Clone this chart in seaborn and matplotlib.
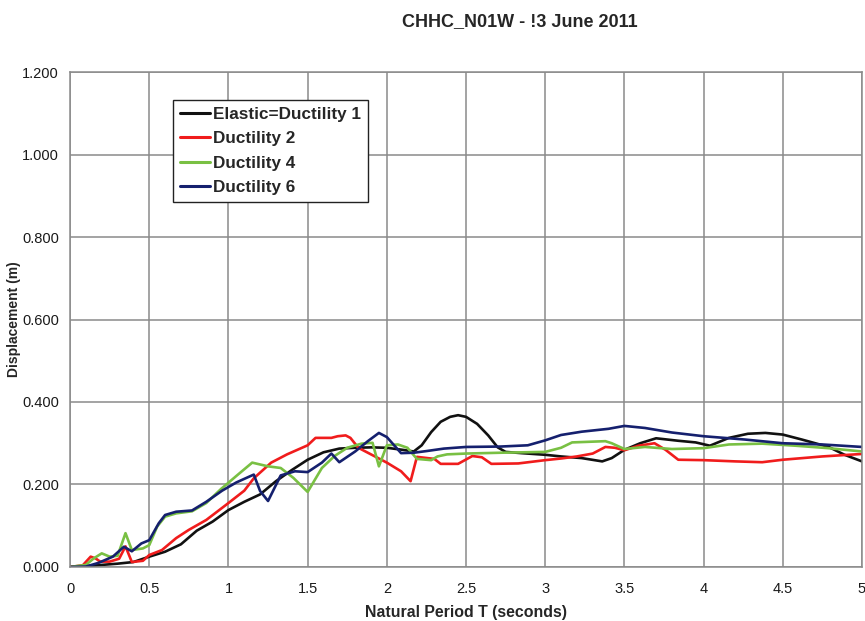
import matplotlib
matplotlib.use("Agg")
import matplotlib.pyplot as plt
import numpy as np
import pandas as pd
import seaborn as sns

# Displacement spectra, CHHC_N01W record
t_elastic = [0, 0.1, 0.2, 0.3, 0.4, 0.5, 0.6, 0.7, 0.8, 0.9, 1.0, 1.1, 1.2, 1.3, 1.4,
             1.5, 1.6, 1.7, 1.8, 1.9, 2.0, 2.1, 2.17, 2.22, 2.28, 2.34, 2.4, 2.45, 2.5,
             2.57, 2.64, 2.7, 2.75, 2.85, 3.0, 3.1, 3.23, 3.36, 3.42, 3.5, 3.6, 3.7,
             3.84, 3.95, 4.04, 4.16, 4.28, 4.39, 4.5, 4.62, 4.79, 4.89, 5.0]
d_elastic = [0, 0.002, 0.005, 0.008, 0.012, 0.025, 0.037, 0.055, 0.088, 0.11, 0.138,
             0.158, 0.176, 0.208, 0.235, 0.26, 0.278, 0.287, 0.289, 0.29, 0.289, 0.284,
             0.28, 0.295, 0.327, 0.352, 0.364, 0.368, 0.364, 0.347, 0.319, 0.29, 0.279,
             0.276, 0.272, 0.268, 0.264, 0.256, 0.264, 0.284, 0.3, 0.312, 0.306, 0.302,
             0.294, 0.313, 0.323, 0.325, 0.321, 0.309, 0.291, 0.272, 0.256]

t_duct2 = [0, 0.08, 0.13, 0.16, 0.19, 0.25, 0.31, 0.35, 0.39, 0.46, 0.5, 0.58, 0.67,
           0.75, 0.86, 1.0, 1.1, 1.16, 1.27, 1.37, 1.5, 1.55, 1.65, 1.69, 1.74, 1.77,
           1.82, 1.9, 2.0, 2.09, 2.15, 2.19, 2.3, 2.34, 2.45, 2.54, 2.6, 2.66, 2.83,
           3.0, 3.1, 3.2, 3.3, 3.38, 3.44, 3.5, 3.59, 3.69, 3.76, 3.84, 4.0, 4.2, 4.37,
           4.5, 4.75, 5.0]
d_duct2 = [0, 0.004, 0.025, 0.021, 0.013, 0.013, 0.02, 0.05, 0.012, 0.015, 0.029,
           0.041, 0.07, 0.09, 0.114, 0.155, 0.185, 0.215, 0.253, 0.273, 0.295, 0.313,
           0.313, 0.317, 0.319, 0.313, 0.289, 0.273, 0.253, 0.232, 0.208, 0.267, 0.262,
           0.25, 0.25, 0.269, 0.266, 0.25, 0.251, 0.259, 0.263, 0.268, 0.275, 0.291,
           0.289, 0.283, 0.294, 0.3, 0.284, 0.26, 0.259, 0.256, 0.254, 0.26, 0.268,
           0.274]

t_duct4 = [0, 0.1, 0.15, 0.2, 0.25, 0.3, 0.35, 0.39, 0.46, 0.5, 0.55, 0.6, 0.67, 0.77,
           0.86, 0.95, 1.06, 1.15, 1.25, 1.33, 1.41, 1.5, 1.59, 1.67, 1.75, 1.84, 1.91,
           1.95, 2.0, 2.07, 2.13, 2.19, 2.28, 2.32, 2.38, 2.5, 2.72, 3.0, 3.1, 3.17,
           3.38, 3.42, 3.5, 3.63, 3.8, 4.0, 4.16, 4.37, 4.58, 4.79, 5.0]
d_duct4 = [0, 0.005, 0.021, 0.033, 0.025, 0.027, 0.082, 0.041, 0.045, 0.053, 0.098,
           0.122, 0.13, 0.135, 0.155, 0.188, 0.224, 0.253, 0.244, 0.24, 0.216, 0.182,
           0.24, 0.269, 0.289, 0.299, 0.301, 0.244, 0.295, 0.297, 0.289, 0.262, 0.259,
           0.268, 0.273, 0.275, 0.277, 0.279, 0.289, 0.302, 0.305, 0.3, 0.286, 0.291,
           0.286, 0.288, 0.297, 0.299, 0.294, 0.288, 0.28]

t_duct6 = [0, 0.1, 0.18, 0.27, 0.34, 0.39, 0.45, 0.5, 0.56, 0.6, 0.67, 0.77, 0.86,
           0.96, 1.05, 1.16, 1.2, 1.25, 1.33, 1.42, 1.5, 1.59, 1.65, 1.7, 1.8, 1.88,
           1.95, 2.0, 2.09, 2.17, 2.25, 2.36, 2.5, 2.72, 2.89, 3.0, 3.1, 3.23, 3.4,
           3.5, 3.63, 3.8, 4.0, 4.26, 4.5, 4.75, 5.0]
d_duct6 = [0, 0.001, 0.01, 0.025, 0.049, 0.038, 0.057, 0.065, 0.106, 0.126, 0.134,
           0.137, 0.158, 0.185, 0.205, 0.224, 0.184, 0.16, 0.222, 0.232, 0.23, 0.253,
           0.275, 0.254, 0.28, 0.305, 0.325, 0.315, 0.276, 0.277, 0.281, 0.287, 0.291,
           0.292, 0.295, 0.307, 0.32, 0.328, 0.335, 0.342, 0.337, 0.326, 0.317, 0.309,
           0.3, 0.297, 0.291]

series_names = ["Elastic=Ductility 1", "Ductility 2", "Ductility 4", "Ductility 6"]
series_colors = ["#111111", "#f01c1c", "#79c043", "#15206e"]
x_ticks = [0, 0.5, 1, 1.5, 2, 2.5, 3, 3.5, 4, 4.5, 5]
x_tick_labels = ["0", "0.5", "1", "1.5", "2", "2.5", "3", "3.5", "4", "4.5", "5"]
y_ticks = [0.0, 0.2, 0.4, 0.6, 0.8, 1.0, 1.2]

frames = []
for name, t, d in zip(series_names,
                      [t_elastic, t_duct2, t_duct4, t_duct6],
                      [d_elastic, d_duct2, d_duct4, d_duct6]):
    frames.append(pd.DataFrame({"T": t, "D": d, "series": name}))
df = pd.concat(frames, ignore_index=True)

sns.set_style("white")
plt.rcParams["font.family"] = ["Liberation Sans", "DejaVu Sans"]

fig = plt.figure(figsize=(8.65, 6.21), dpi=100)
ax = fig.add_axes([0.081, 0.087, 0.9155, 0.797])

sns.lineplot(data=df, x="T", y="D", hue="series", hue_order=series_names,
             palette=dict(zip(series_names, series_colors)), estimator=None,
             sort=False, linewidth=1.9, ax=ax)

ax.set_xlim(0, 5)
ax.set_ylim(0, 1.2)
ax.set_xticks(x_ticks)
ax.set_xticklabels(x_tick_labels)
ax.set_yticks(y_ticks)
ax.set_yticklabels([f"{v:.3f}" for v in y_ticks])
ax.grid(True, color="#8a8a8a", linewidth=1.1)
ax.set_axisbelow(True)
for s in ax.spines.values():
    s.set_color("#8a8a8a")
    s.set_linewidth(1.1)
ax.tick_params(axis="both", length=4, color="#8a8a8a", direction="out",
               labelsize=10.5, pad=4, colors="#1a1a1a")
ax.tick_params(axis="x", pad=7)

ax.set_xlabel("Natural Period T (seconds)", fontsize=11.4, fontweight="bold", labelpad=6)
ax.set_ylabel("Displacement (m)", fontsize=10, fontweight="bold", labelpad=1)
fig.text(0.601, 0.966, "CHHC_N01W - !3 June 2011", ha="center", va="center",
         fontsize=13, fontweight="bold")

leg = ax.legend(loc="upper left", bbox_to_anchor=(0.13, 0.943), frameon=True,
                fancybox=False, edgecolor="#222222", framealpha=1,
                prop={"weight": "bold", "size": 12.3}, handlelength=1.75,
                handletextpad=0.18, labelspacing=0.53, borderpad=0.42,
                borderaxespad=0)
leg.get_frame().set_linewidth(1.0)
for line in leg.get_lines():
    line.set_linewidth(2.2)

fig.savefig("out.png", dpi=100)
